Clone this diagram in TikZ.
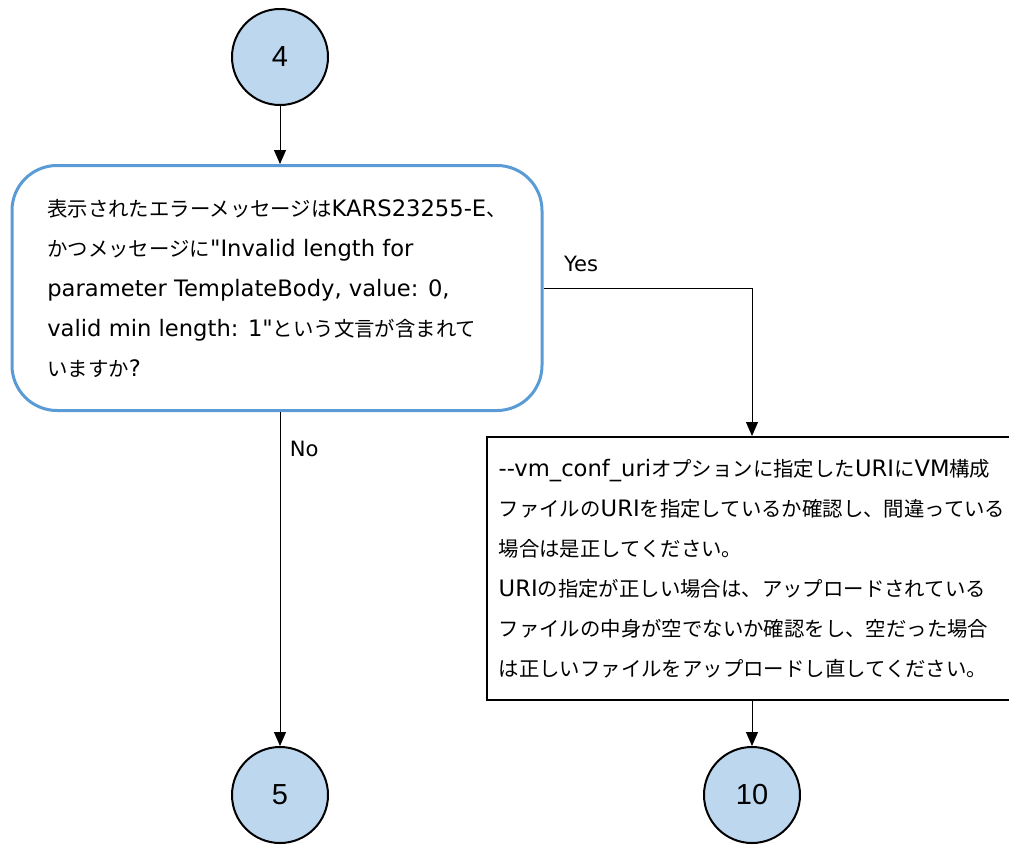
\documentclass[tikz,border=0pt]{standalone}
\usepackage{fontspec}
\setmainfont{Noto Sans CJK JP}[Ligatures=TeXOff]
\newfontfamily\latfont{DejaVu Sans}[Scale=1.11,Ligatures=TeXOff]
\newfontfamily\numfont{Liberation Sans}
\newcommand{\en}[1]{{\latfont #1}}
\usetikzlibrary{arrows.meta,positioning}
\definecolor{connblue}{HTML}{BDD7EE}
\definecolor{frameblue}{HTML}{5B9BD5}

\begin{document}
\begin{tikzpicture}[x=1pt,y=-1pt,
  conn/.style={circle,draw,line width=2pt,fill=connblue,minimum size=96pt,inner sep=0pt,
    font=\numfont\fontsize{29pt}{32pt}\selectfont},
  decide/.style={draw=frameblue,line width=3pt,rounded corners=45pt,minimum width=530pt,
    minimum height=245pt,align=left,font=\fontsize{20.4pt}{40pt}\selectfont},
  actbox/.style={draw,line width=2pt,minimum width=530pt,minimum height=263pt,
    align=left,font=\fontsize{20.4pt}{40pt}\selectfont},
  lbl/.style={font=\latfont\fontsize{19pt}{24pt}\selectfont},
  arr/.style={-{Triangle[width=12pt,length=14pt]},line width=1pt}]
\useasboundingbox (0,0) rectangle (1009,854);
\node[conn] (c4) at (280,57) {4};
\node[decide] (chk) at (277,288) {表示されたエラーメッセージは\en{KARS23255-E}、\\
かつメッセージに\en{"Invalid length for}\\
\en{parameter TemplateBody, value: 0,}\\
\en{valid min length: 1"}という文言が含まれて\\
いますか\en{?}};
\node[actbox] (fix) at (752,568.5) {\en{--vm\_conf\_uri}オプションに指定した\en{URI}に\en{VM}構成\\
ファイルの\en{URI}を指定しているか確認し、間違っている\\
場合は是正してください。\\
\en{URI}の指定が正しい場合は、アップロードされている\\
ファイルの中身が空でないか確認をし、空だった場合\\
は正しいファイルをアップロードし直してください。};
\node[conn] (c5) at (280,795) {5};
\node[conn] (c10) at (752,795) {10};
\draw[arr] (c4.south) -- (c4.south |- chk.north);
\draw[arr] (chk.east) -| node[lbl,pos=0.09,above=12pt] {Yes} (fix.north);
\draw[arr] (c5 |- chk.south) -- node[lbl,pos=0.11,right=6pt] {No} (c5.north);
\draw[arr] (fix.south) -- (c10.north);
\end{tikzpicture}
\end{document}
